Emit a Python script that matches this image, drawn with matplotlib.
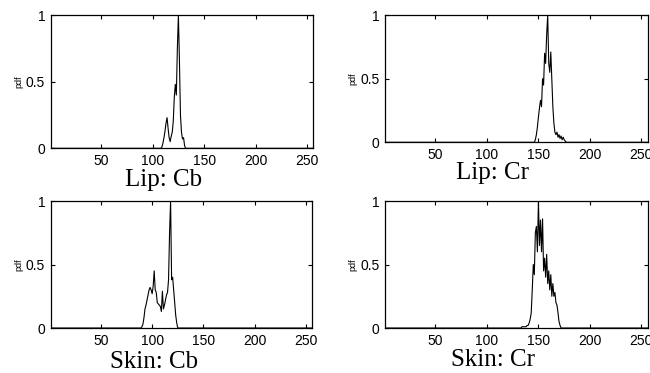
import numpy as np
import matplotlib.pyplot as plt

# Lip Cb histogram (normalized), bins 108..133
lip_cb_start = 108
lip_cb = [0, 0.01, 0.04, 0.08, 0.13, 0.19, 0.23, 0.15, 0.08, 0.05,
          0.09, 0.12, 0.2, 0.38, 0.48, 0.4, 0.75, 1.0, 0.66, 0.25,
          0.12, 0.07, 0.08, 0.02, 0, 0]

# Lip Cr, bins 146..177
lip_cr_start = 146
lip_cr = [0, 0.02, 0.06, 0.12, 0.2, 0.27, 0.33, 0.28, 0.5, 0.45,
          0.7, 0.62, 0.85, 1.0, 0.62, 0.55, 0.71, 0.5, 0.28, 0.15,
          0.08, 0.06, 0.08, 0.04, 0.06, 0.03, 0.05, 0.02, 0.04, 0.02,
          0.01, 0]

# Skin Cb, bins 89..125
skin_cb_start = 89
skin_cb = [0, 0.01, 0.03, 0.08, 0.15, 0.18, 0.22, 0.26, 0.3, 0.32,
           0.3, 0.27, 0.33, 0.45, 0.3, 0.28, 0.2, 0.19, 0.18, 0.17,
           0.13, 0.29, 0.15, 0.18, 0.22, 0.26, 0.28, 0.38, 0.75, 1.0,
           0.38, 0.4, 0.3, 0.2, 0.1, 0.04, 0]

# Skin Cr, bins 133..172
skin_cr_start = 133
skin_cr = [0, 0.01, 0.01, 0.01, 0.01, 0.01, 0.02, 0.02, 0.04, 0.07,
           0.12, 0.3, 0.5, 0.42, 0.75, 0.8, 0.6, 1.0, 0.65, 0.85,
           0.6, 0.86, 0.45, 0.55, 0.4, 0.58, 0.35, 0.45, 0.3, 0.42,
           0.25, 0.35, 0.25, 0.28, 0.2, 0.18, 0.12, 0.05, 0.02, 0]

titles = ['Lip: Cb', 'Lip: Cr', 'Skin: Cb', 'Skin: Cr']
xticks = [50, 100, 150, 200, 250]
yticks = [0, 0.5, 1]


def full_hist(start, vals):
    y = np.zeros(256)
    y[start - 1:start - 1 + len(vals)] = vals
    return y


plt.rcParams['font.family'] = 'Liberation Sans'

fig = plt.figure(figsize=(6.5, 3.73), dpi=100)

# axes boxes in figure fractions
boxes = [
    [0.078, 0.6024, 0.404, 0.357],
    [0.5923, 0.6185, 0.404, 0.341],
    [0.078, 0.1206, 0.402, 0.3405],
    [0.5923, 0.1206, 0.404, 0.3405],
]
series = [(lip_cb_start, lip_cb), (lip_cr_start, lip_cr),
          (skin_cb_start, skin_cb), (skin_cr_start, skin_cr)]
# title anchor (x centre px, baseline px)
title_pos = [(164, 186), (493, 179), (154, 367.5), (493, 366)]

x = np.arange(1, 257)
for box, (s, vals), t, (tx, ty) in zip(boxes, series, titles, title_pos):
    ax = fig.add_axes(box)
    ax.plot(x, full_hist(s, vals), color='black', lw=0.8)
    ax.set_xlim(1, 256)
    ax.set_ylim(0, 1)
    ax.set_xticks(xticks)
    ax.set_yticks(yticks)
    ax.set_yticklabels(['0', '0.5', '1'])
    ax.tick_params(direction='in', length=3, width=0.8, labelsize=10,
                   top=True, right=True, pad=4)
    for sp in ax.spines.values():
        sp.set_linewidth(0.9)
    ax.set_ylabel('pdf', fontsize=6.5, labelpad=2)
    fig.text(tx / 650, 1 - ty / 373, t, ha='center', va='baseline',
             fontsize=18, family='Liberation Serif')

plt.savefig('out.png', dpi=100)
